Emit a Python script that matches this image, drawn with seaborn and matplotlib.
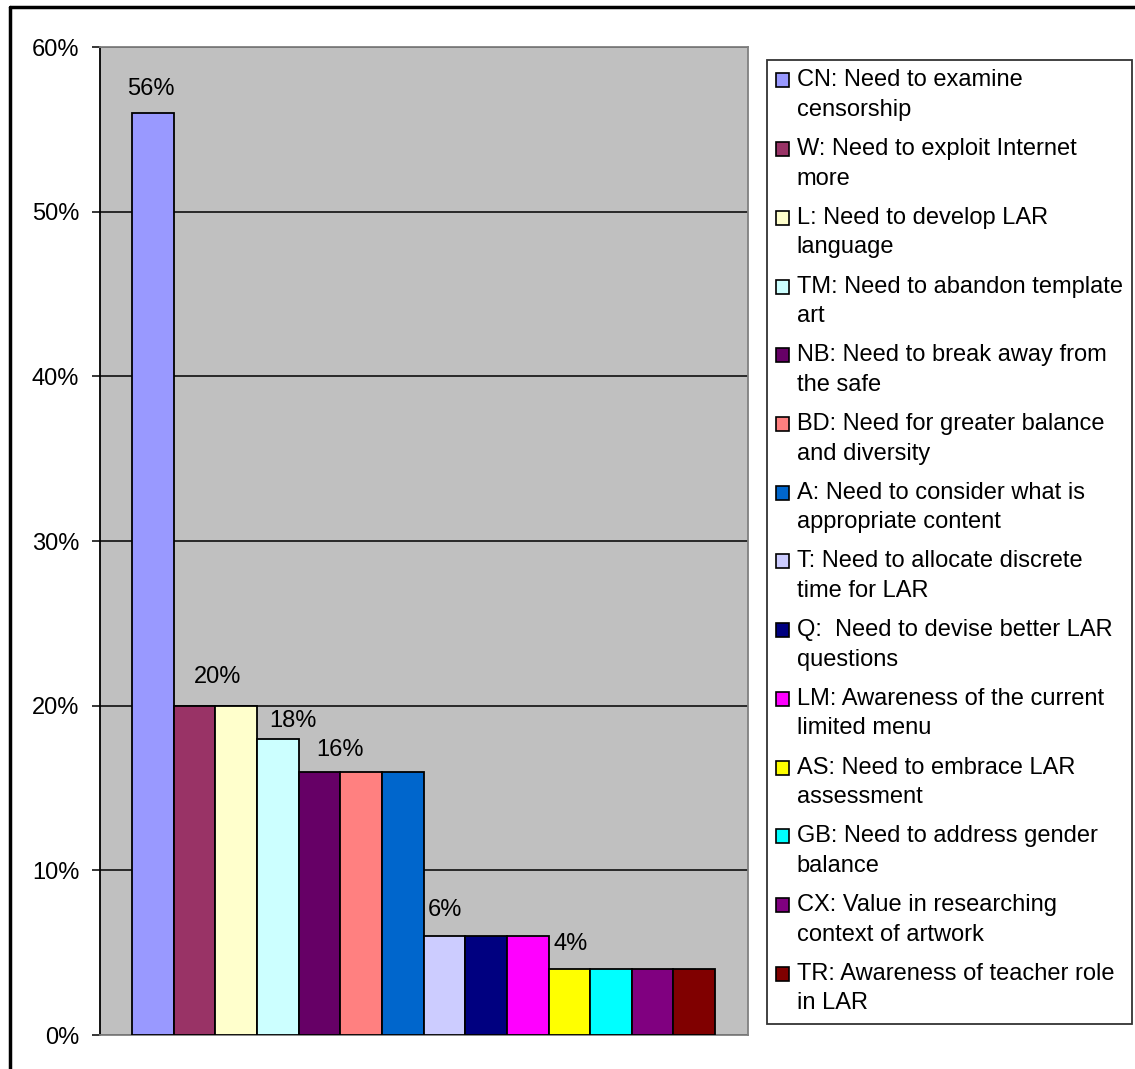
import numpy as np
import pandas as pd
import matplotlib
matplotlib.use("Agg")
import matplotlib.pyplot as plt
import seaborn as sns
from matplotlib.patches import Patch, Rectangle
from matplotlib.lines import Line2D
from matplotlib.legend_handler import HandlerPatch
from matplotlib.ticker import PercentFormatter

# data
codes = ["CN", "W", "L", "TM", "NB", "BD", "A", "T", "Q", "LM", "AS", "GB", "CX", "TR"]
values = [56, 20, 20, 18, 16, 16, 16, 6, 6, 6, 4, 4, 4, 4]
legend_labels = [
    "CN: Need to examine\ncensorship",
    "W: Need to exploit Internet\nmore",
    "L: Need to develop LAR\nlanguage",
    "TM: Need to abandon template\nart",
    "NB: Need to break away from\nthe safe",
    "BD: Need for greater balance\nand diversity",
    "A: Need to consider what is\nappropriate content",
    "T: Need to allocate discrete\ntime for LAR",
    "Q:  Need to devise better LAR\nquestions",
    "LM: Awareness of the current\nlimited menu",
    "AS: Need to embrace LAR\nassessment",
    "GB: Need to address gender\nbalance",
    "CX: Value in researching\ncontext of artwork",
    "TR: Awareness of teacher role\nin LAR",
]
colors = ["#9999FF", "#993366", "#FFFFCC", "#CCFFFF", "#660066", "#FF8080", "#0066CC",
          "#CCCCFF", "#000080", "#FF00FF", "#FFFF00", "#00FFFF", "#800080", "#800000"]
# which bars carry a value label
labelled = [0, 1, 3, 4, 7, 10]

df = pd.DataFrame({"code": codes, "value": values})

sns.set_style("white")
plt.rcParams["font.family"] = ["Liberation Sans", "DejaVu Sans"]
plt.rcParams["text.color"] = "black"
plt.rcParams["ytick.labelcolor"] = "black"
FS = 17
LSP = 1.44

W, H = 1135, 1069
fig = plt.figure(figsize=(W / 100, H / 100), dpi=100)
ax = fig.add_axes([100 / W, 1 - 1035 / H, 648 / W, 988 / H])
ax.set_facecolor("#C0C0C0")

sns.barplot(data=df, x="code", y="value", hue="code", palette=colors, saturation=1,
            width=1.0, edgecolor="black", linewidth=1.3, legend=False, ax=ax, zorder=3)

ax.set_ylim(0, 60)
ax.set_xlim(-0.5 - 0.77, len(codes) - 0.5 + 0.79)
ax.set_yticks(np.arange(0, 61, 10))
ax.yaxis.set_major_formatter(PercentFormatter(decimals=0))
ax.grid(axis="y", color="black", linewidth=1.1, zorder=1)
ax.set_axisbelow(True)
ax.set_xticks([])
ax.set_xlabel("")
ax.set_ylabel("")
ax.tick_params(axis="y", left=True, length=6, width=1.1, color="black",
               labelsize=FS, labelcolor="black", pad=9, direction="out")
for s in ["top", "right", "bottom"]:
    ax.spines[s].set_color("#808080")
    ax.spines[s].set_linewidth(1.3)
ax.spines["left"].set_color("black")
ax.spines["left"].set_linewidth(1.3)

# value labels above selected bars
dx = {0: -2, 1: 23, 3: 15, 4: 21, 7: 1, 10: 1}
dy = {0: 24, 1: 29, 3: 18, 4: 22, 7: 26, 10: 25}
for i in labelled:
    ax.annotate(f"{values[i]}%", (i, values[i]), xytext=(dx[i], dy[i]),
                textcoords="offset pixels", ha="center", va="center",
                fontsize=FS, color="black")


def first_line_patch(legend, orig_handle, xdescent, ydescent, width, height, fontsize):
    # put the colour box next to the first line of a two-line label
    return Rectangle((-xdescent, -ydescent + 0.63 * fontsize), width, height)


handles = [Patch(facecolor=c, edgecolor="black", linewidth=1.2) for c in colors]
leg = fig.legend(handles, legend_labels, loc="upper left",
                 bbox_to_anchor=(767 / W, 1 - 60 / H), bbox_transform=fig.transFigure,
                 fontsize=FS, frameon=True, fancybox=False, shadow=False,
                 handlelength=0.53, handleheight=0.53, handletextpad=0.33,
                 labelspacing=0.73, borderpad=0.4, borderaxespad=0, labelcolor="black",
                 handler_map={Patch: HandlerPatch(patch_func=first_line_patch)})
leg.get_frame().set_edgecolor("black")
leg.get_frame().set_linewidth(1.3)
for t in leg.get_texts():
    t.set_linespacing(LSP)

# outer chart frame (left and top edges visible)
fig.add_artist(Line2D([10 / W, 10 / W], [0, 1 - 7 / H], color="black", linewidth=2.5,
                      transform=fig.transFigure))
fig.add_artist(Line2D([10 / W, 1], [1 - 7 / H, 1 - 7 / H], color="black", linewidth=2.5,
                      transform=fig.transFigure))

fig.savefig("out.png", dpi=100, facecolor="white")
